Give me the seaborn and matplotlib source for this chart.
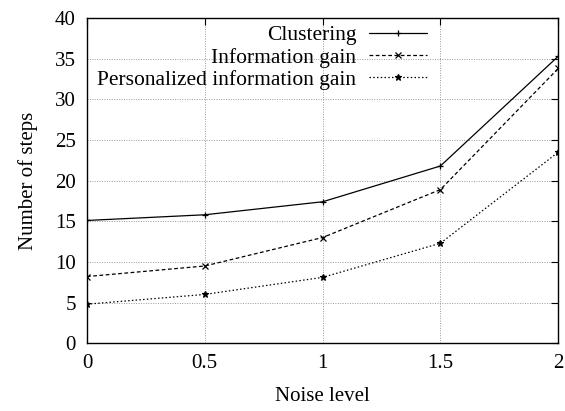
import matplotlib
matplotlib.use("Agg")
import matplotlib.pyplot as plt
import seaborn as sns
import pandas as pd

noise = [0, 0.5, 1, 1.5, 2]
clustering = [15.1, 15.8, 17.4, 21.8, 35.3]
info_gain = [8.2, 9.5, 13.0, 18.9, 33.8]
pers_info_gain = [4.8, 6.0, 8.1, 12.3, 23.5]
series_names = ["Clustering", "Information gain", "Personalized information gain"]
x_ticks = [0, 0.5, 1, 1.5, 2]
x_tick_labels = ["0", "0.5", "1", "1.5", "2"]
y_ticks = [0, 5, 10, 15, 20, 25, 30, 35, 40]

sns.set_theme(style="white")
plt.rcParams['font.family'] = ['Liberation Serif', 'DejaVu Serif']
plt.rcParams['font.size'] = 15
plt.rcParams['text.color'] = 'black'
plt.rcParams['axes.labelcolor'] = 'black'

fig = plt.figure(figsize=(5.65, 4.11), dpi=100)
ax = fig.add_axes([0.154, 0.165, 0.834, 0.791])

styles = [("-", "+", 5), ((0, (3, 2)), "x", 4), ((0, (1.2, 1.8)), "*", 4.5)]
for name, vals, (ls, mk, ms) in zip(series_names, [clustering, info_gain, pers_info_gain], styles):
    df = pd.DataFrame({"x": noise, "y": vals})
    sns.lineplot(data=df, x="x", y="y", ax=ax, color="black", linestyle=ls,
                 marker=mk, markersize=ms, markeredgewidth=0.9, linewidth=0.9,
                 label=name, markeredgecolor="black")

ax.set_xlim(0, 2)
ax.set_ylim(0, 40)
ax.set_xticks(x_ticks)
ax.set_xticklabels(x_tick_labels)
ax.set_yticks(y_ticks)
ax.grid(True, color="#999999", linestyle=(0, (1, 1.5)), linewidth=0.7)
ax.tick_params(direction="in", length=5, width=0.8, top=True, right=True,
               labelsize=15, pad=8, colors="black")
for s in ax.spines.values():
    s.set_color("black")
    s.set_linewidth(1.0)
ax.set_xlabel("Noise level", fontsize=15, labelpad=10, color="black")
ax.set_ylabel("Number of steps", fontsize=15, labelpad=12, color="black")

leg = ax.legend(loc="upper right", bbox_to_anchor=(0.722, 0.978), frameon=False,
                markerfirst=False, fontsize=15.5, handlelength=2.7,
                labelspacing=0.1, handletextpad=0.6, borderaxespad=0.0,
                borderpad=0.0)
for t in leg.get_texts():
    t.set_ha("right")
    t.set_color("black")

fig.savefig("out.png", dpi=100)
